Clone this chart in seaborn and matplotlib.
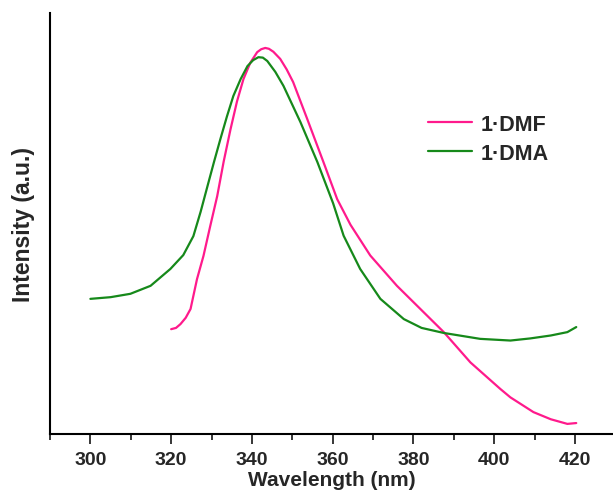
import matplotlib
matplotlib.use("Agg")
import matplotlib.pyplot as plt
import pandas as pd
import seaborn as sns
from matplotlib.ticker import MultipleLocator

# emission spectra
dmf_wavelength = [320.0, 321.2, 322.3, 323.6, 324.8, 326.4, 328.0, 329.7, 331.4,
                  333.0, 334.7, 336.3, 337.9, 339.6, 341.3, 342.3, 343.3, 344.2,
                  345.3, 347.0, 348.6, 350.2, 353.7, 357.7, 361.1, 364.4, 369.3,
                  375.9, 381.7, 387.5, 394.1, 401.5, 404.0, 409.7, 414.0, 418.1,
                  420.3]
dmf_intensity = [0.249, 0.252, 0.261, 0.276, 0.297, 0.368, 0.423, 0.495, 0.565,
                 0.647, 0.724, 0.790, 0.843, 0.882, 0.907, 0.914, 0.917, 0.915,
                 0.908, 0.891, 0.866, 0.836, 0.748, 0.646, 0.558, 0.497, 0.424,
                 0.352, 0.297, 0.242, 0.170, 0.107, 0.087, 0.052, 0.035, 0.024,
                 0.026]

dma_wavelength = [300.0, 305.0, 309.9, 314.9, 319.8, 323.0, 325.5, 327.3, 329.0,
                  330.6, 332.2, 333.8, 335.4, 337.2, 338.9, 340.3, 341.6, 342.7,
                  343.8, 345.8, 347.8, 352.0, 356.2, 360.1, 362.7, 366.8, 371.8,
                  377.6, 382.0, 387.5, 396.5, 404.0, 408.9, 414.0, 418.1, 420.3]
dma_intensity = [0.321, 0.325, 0.333, 0.352, 0.392, 0.425, 0.470, 0.528, 0.589,
                 0.646, 0.701, 0.754, 0.803, 0.843, 0.874, 0.888, 0.895, 0.894,
                 0.886, 0.860, 0.827, 0.741, 0.646, 0.548, 0.471, 0.392, 0.321,
                 0.273, 0.252, 0.240, 0.226, 0.222, 0.227, 0.234, 0.242, 0.254]

labels = ["1\u00b7DMF", "1\u00b7DMA"]
colors = ["#ff1a8c", "#16891a"]

df = pd.concat([
    pd.DataFrame({"wavelength": dmf_wavelength, "intensity": dmf_intensity, "sample": labels[0]}),
    pd.DataFrame({"wavelength": dma_wavelength, "intensity": dma_intensity, "sample": labels[1]}),
])

sns.set_style("ticks")
plt.rcParams["font.family"] = ["Liberation Sans", "DejaVu Sans"]
plt.rcParams["font.weight"] = "bold"

fig = plt.figure(figsize=(6.13, 5.02), dpi=100)
ax = fig.add_axes([50 / 613, 67 / 502, 1 - 50 / 613, 421 / 502])

sns.lineplot(data=df, x="wavelength", y="intensity", hue="sample",
             palette=dict(zip(labels, colors)), linewidth=1.6, sort=False,
             estimator=None, ax=ax)

ax.set_xlim(290, 429.4)
ax.set_ylim(0, 1)
ax.xaxis.set_major_locator(MultipleLocator(20))
ax.xaxis.set_minor_locator(MultipleLocator(10))
ax.set_yticks([])
for side in ["top", "right"]:
    ax.spines[side].set_visible(False)
for side in ["left", "bottom"]:
    ax.spines[side].set_linewidth(1.5)
    ax.spines[side].set_color("black")
ax.tick_params(axis="x", which="major", length=7, width=1.3, labelsize=14, pad=5)
ax.tick_params(axis="x", which="minor", length=4, width=1.3)
for lbl in ax.get_xticklabels():
    lbl.set_fontweight("bold")

ax.set_xlabel("Wavelength (nm)", fontsize=15, fontweight="bold", labelpad=2)
ax.set_ylabel("Intensity (a.u.)", fontsize=16.5, fontweight="bold", labelpad=11)

leg = ax.legend(frameon=False, loc="center left", bbox_to_anchor=(0.637, 0.701),
                fontsize=15.5, handlelength=2.05, handletextpad=0.4,
                labelspacing=0.38)
for t in leg.get_texts():
    t.set_fontweight("bold")

fig.savefig("out.png", dpi=100)
